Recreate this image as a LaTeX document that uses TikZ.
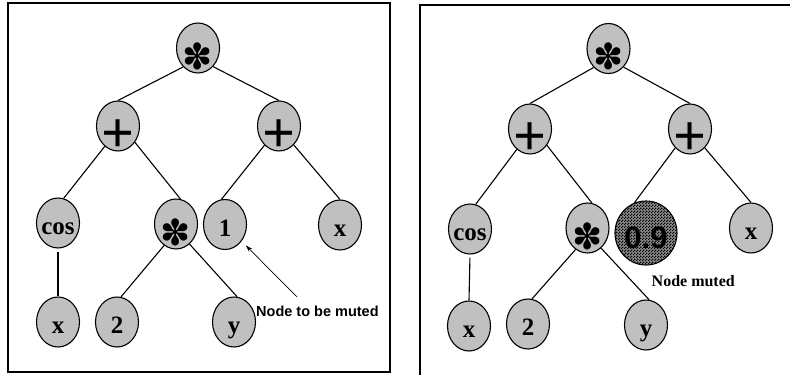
\documentclass[tikz,border=0pt]{standalone}
\usepackage{fontspec}
\setmainfont{Liberation Serif}
\newfontfamily\helv{Liberation Sans}
\newfontfamily\symfont{DejaVu Sans}
\usetikzlibrary{shapes.geometric,arrows.meta,patterns}
\definecolor{nodegray}{RGB}{192,192,192}
\definecolor{mutedgray}{RGB}{140,140,140}
\pgfdeclarepatternformonly{checker}{\pgfqpoint{0pt}{0pt}}{\pgfqpoint{3pt}{3pt}}{\pgfqpoint{3pt}{3pt}}{%
  \pgfpathrectangle{\pgfqpoint{0pt}{0pt}}{\pgfqpoint{1.6pt}{1.6pt}}%
  \pgfpathrectangle{\pgfqpoint{1.5pt}{1.5pt}}{\pgfqpoint{1.6pt}{1.6pt}}%
  \pgfusepath{fill}}
\newcommand\lettxt[1]{\makebox[0pt]{\raisebox{-11.5pt}[0pt][0pt]{#1}}}
\newcommand\symtxt[2]{\makebox[0pt]{\raisebox{\dimexpr(\depth-\height)/2-#1\relax}[0pt][0pt]{#2}}}
\newcommand\plustxt{\symtxt{10.5pt}{\fontsize{58}{58}\selectfont +}}
\newcommand\asttxt{\symtxt{8pt}{\symfont\fontsize{36}{36}\selectfont ✽}}
\tikzset{
  tn/.style={ellipse, draw=black, line width=1.1pt, fill=nodegray,
    minimum width=43pt, minimum height=50pt, inner sep=0pt,
    text height=0pt, text depth=0pt,
    font=\bfseries\fontsize{25}{25}\selectfont},
  muted/.style={tn, minimum width=62pt, minimum height=64pt,
    preaction={fill=mutedgray}, pattern=checker, pattern color=black,
    font=\helv\bfseries\fontsize{31}{31}\selectfont},
  edge/.style={line width=1.1pt},
  boxline/.style={line width=1.4pt},
  arrowline/.style={line width=0.7pt, -{Stealth[length=7pt,width=4.5pt]}},
}
\begin{document}
\begin{tikzpicture}[x=1pt,y=-1pt]
\useasboundingbox (0,0) rectangle (790,375);
% frames
\draw[boxline] (8,3) rectangle (390,372);
\draw[boxline] (420,375) -- (420,5) -- (790,5);
% left tree
\node[tn] (rootA) at (198,48) {\asttxt};
\node[tn] (plA) at (118,126) {\plustxt};
\node[tn] (prA) at (279,126) {\plustxt};
\node[tn] (cosA) at (58,223) {\lettxt{cos}};
\node[tn] (mA) at (176,224) {\asttxt};
\node[tn] (oneA) at (225,224.5) {\lettxt{1}};
\node[tn] (xrA) at (340,225) {\lettxt{x}};
\node[tn] (xbA) at (58,322) {\lettxt{x}};
\node[tn] (twoA) at (117,322) {\lettxt{2}};
\node[tn] (yA) at (234,322) {\lettxt{y}};
\draw[edge] (rootA.232) -- (plA.north);
\draw[edge] (rootA.309) -- (prA.north);
\draw[edge] (plA.237) -- (cosA.77);
\draw[edge] (plA.316) -- (mA.80);
\draw[edge, shorten <=3pt] (cosA.south) -- (xbA.north);
\draw[edge] (mA.241) -- (twoA.81);
\draw[edge] (mA.304) -- (yA.83);
\draw[edge] (prA.233) -- (oneA.98);
\draw[edge] (prA.308) -- (xrA.north);
\node[anchor=base west, inner sep=0pt, font=\helv\bfseries\fontsize{14.5}{15}\selectfont] (lblA) at (256,316) {Node to be muted};
\coordinate (arrtail) at (297,297);
\draw[arrowline, shorten >=6pt] (arrtail) -- (oneA);
% right tree
\node[tn] (rootB) at (608.5,48.5) {\asttxt};
\node[tn] (plB) at (530,129) {\plustxt};
\node[tn] (prB) at (690,129) {\plustxt};
\node[tn] (cosB) at (470,229) {\lettxt{cos}};
\node[tn] (mB) at (587.5,228) {\asttxt};
\node[muted] (nineB) at (646,233) {\makebox[0pt]{\raisebox{-15pt}[0pt][0pt]{0.9}}};
\node[tn] (xrB) at (751,228) {\lettxt{x}};
\node[tn] (xbB) at (469,326) {\lettxt{x}};
\node[tn] (twoB) at (528,324) {\lettxt{2}};
\node[tn] (yB) at (646,325) {\lettxt{y}};
\draw[edge] (rootB.232) -- (plB.north);
\draw[edge] (rootB.309) -- (prB.north);
\draw[edge] (plB.237) -- (cosB.77);
\draw[edge] (plB.316) -- (mB.80);
\draw[edge, shorten <=3pt] (cosB.south) -- (xbB.north);
\draw[edge] (mB.241) -- (twoB.81);
\draw[edge] (mB.304) -- (yB.83);
\draw[edge] (prB.232) -- (nineB.111);
\draw[edge] (prB.308) -- (xrB.north);
\node[anchor=base west, inner sep=0pt, font=\bfseries\fontsize{16}{16}\selectfont] (lblB) at (651.5,286) {Node muted};
\end{tikzpicture}
\end{document}
